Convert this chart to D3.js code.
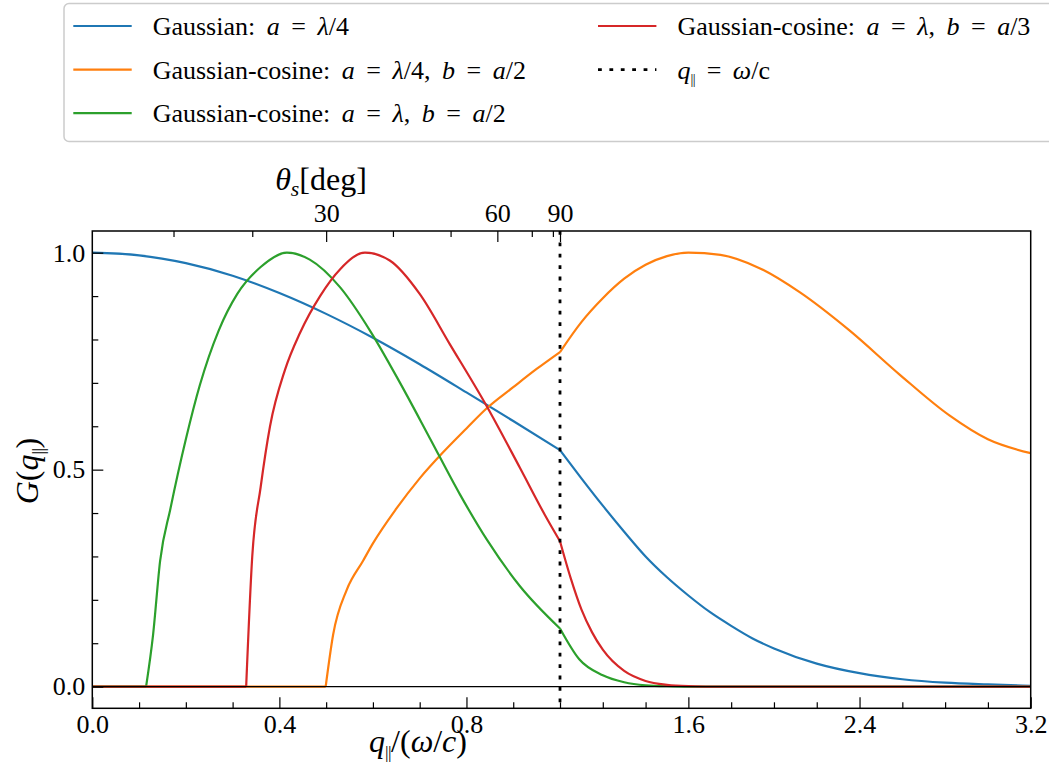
<!DOCTYPE html>
<html>
<head>
<meta charset="utf-8">
<script src="https://cdn.jsdelivr.net/npm/d3@7"></script>
<style>
body{margin:0;background:#fff;}
svg text{font-family:"Liberation Serif","Times New Roman",serif;fill:#000;white-space:pre;}
</style>
</head>
<body>
<script>
//values: [q/(omega/c), G]
var gaussA4 = [[0,1.0],[0.1,0.994],[0.2,0.976],[0.3,0.947],[0.4,0.907],[0.5,0.859],[0.6,0.804],[0.7,0.743],[0.8,0.678],[0.9,0.612],[1.0,0.545],[1.1,0.48],[1.2,0.417],[1.3,0.357],[1.4,0.30],[1.5,0.252],[1.6,0.21],[1.7,0.172],[1.8,0.14],[1.9,0.111],[2.0,0.088],[2.2,0.053],[2.4,0.031],[2.6,0.017],[2.8,0.009],[3.0,0.005],[3.2,0.002]];

var gcosA4B2 = [[0,0],[0.499,0],[0.515,0.12],[0.544,0.223],[0.579,0.29],[0.6,0.33],[0.65,0.41],[0.7,0.48],[0.75,0.54],[0.8,0.595],[0.844,0.642],[0.9,0.69],[0.95,0.732],[1.0,0.771],[1.1,0.84],[1.2,0.895],[1.3,0.94],[1.4,0.972],[1.5,0.992],[1.6,1.0],[1.75,0.995],[1.93,0.965],[2.12,0.909],[2.35,0.822],[2.59,0.718],[2.82,0.625],[3.0,0.57],[3.2,0.538]];

var gcosAB2 = [[0,0],[0.115,0],[0.13,0.12],[0.145,0.29],[0.167,0.41],[0.2,0.57],[0.23,0.695],[0.27,0.82],[0.31,0.905],[0.36,0.967],[0.416,1.0],[0.465,0.984],[0.53,0.92],[0.594,0.82],[0.658,0.70],[0.722,0.572],[0.786,0.443],[0.844,0.338],[0.914,0.232],[1.0,0.134],[1.09,0.063],[1.2,0.026],[1.3,0.01],[1.4,0.003],[1.5,0.001],[1.6,0],[3.2,0]];

var gcosAB3 = [[0,0],[0.329,0],[0.342,0.30],[0.36,0.46],[0.38,0.60],[0.412,0.73],[0.444,0.815],[0.487,0.90],[0.53,0.962],[0.583,1.0],[0.636,0.982],[0.7,0.905],[0.764,0.79],[0.844,0.645],[0.914,0.505],[0.968,0.395],[1.0,0.335],[1.05,0.25],[1.1,0.178],[1.15,0.125],[1.2,0.085],[1.3,0.036],[1.4,0.013],[1.5,0.004],[1.6,0.001],[1.7,0],[3.2,0]];

var lightLine = 1.0; //q = omega/c

//ticks
var bottomMajor = [0, 0.4, 0.8, 1.6, 2.4, 3.2];
var bottomMinor = [0.1,0.2,0.3,0.5,0.6,0.7,0.9,1.0,1.2,1.4,1.8,2.0,2.2,2.6,2.8,3.0];
var leftMajor = [0, 0.5, 1.0];
var leftMinor = [0.1,0.2,0.3,0.4,0.6,0.7,0.8,0.9];
var topMajorDeg = [30, 60, 90];
var topMinorDeg = [10, 20, 40, 50, 70, 80];

var legendLabels = [
    [["Gaussian: ","n"],["a","i"],[" = ","n"],["λ","i"],["/4","n"]],
    [["Gaussian-cosine: ","n"],["a","i"],[" = ","n"],["λ","i"],["/4, ","n"],["b","i"],[" = ","n"],["a","i"],["/2","n"]],
    [["Gaussian-cosine: ","n"],["a","i"],[" = ","n"],["λ","i"],[", ","n"],["b","i"],[" = ","n"],["a","i"],["/2","n"]],
    [["Gaussian-cosine: ","n"],["a","i"],[" = ","n"],["λ","i"],[", ","n"],["b","i"],[" = ","n"],["a","i"],["/3","n"]],
    [["q","i"],["||","s"],[" = ","n"],["ω","i"],["/c","n"]]
];

var series = [gaussA4, gcosA4B2, gcosAB2, gcosAB3];
var colors = ["#1f77b4", "#ff7f0e", "#2ca02c", "#d62728"];

var width = 1049, height = 766;
var plotL = 92.3, plotR = 1030.7, plotT = 231, plotB = 708.3;

var svg = d3.select("body").append("svg")
    .attr("width", width)
    .attr("height", height);

//x is linear below q = 1 and compressed above it
var x = d3.scaleLinear().domain([0, 1, 3.2]).range([plotL, 560, plotR]);
var y = d3.scaleLinear().domain([-0.05, 1.05]).range([plotB, plotT]);

function rad(d){ return d * Math.PI / 180; }

//write text with italic / subscript pieces
function richText(sel, segs, size){
    var shift = 0;
    segs.forEach(function(s){
        var t = sel.append("tspan").text(s[0]);
        var sub = s[1].indexOf("s") >= 0;
        if (s[1].indexOf("i") >= 0) t.attr("font-style", "italic");
        if (sub) t.attr("font-size", size * 0.68);
        if (s[0] === "||") t.attr("font-size", size * 0.55).attr("letter-spacing", -0.5);
        var target = sub ? size * 0.2 : 0;
        if (target !== shift){ t.attr("dy", target - shift); shift = target; }
    });
}

function styleAxis(g){
    g.select(".domain").remove();
    g.attr("font-family", null).attr("font-size", 26);
    g.selectAll(".tick line").attr("stroke", "#000").attr("stroke-width", 1.2);
    g.selectAll(".tick text").attr("fill", "#000");
}

//break a curve at q = 1 (axis kink) and where it leaves / reaches zero
function pieces(data){
    var out = [], cur = [data[0]];
    for (var i = 1; i < data.length; i++){
        cur.push(data[i]);
        var brk = data[i][0] === lightLine ||
            (i < data.length - 1 && ((data[i][1] === 0) !== (data[i + 1][1] === 0)));
        if (brk && i < data.length - 1){ out.push(cur); cur = [data[i]]; }
    }
    if (cur.length > 1) out.push(cur);
    return out;
}

//clip
svg.append("clipPath").attr("id", "plotClip")
    .append("rect").attr("x", plotL).attr("y", plotT)
    .attr("width", plotR - plotL).attr("height", plotB - plotT);

//curves
var line = d3.line()
    .x(function(d){ return x(d[0]); })
    .y(function(d){ return y(d[1]); })
    .curve(d3.curveMonotoneX);

var plot = svg.append("g").attr("clip-path", "url(#plotClip)");

plot.selectAll(".curve")
    .data(series)
    .enter()
    .append("path")
    .attr("class", "curve")
    .attr("d", function(d){ return pieces(d).map(line).join(""); })
    .attr("fill", "none")
    .attr("stroke", function(d, i){ return colors[i]; })
    .attr("stroke-width", 2.2)
    .attr("stroke-linejoin", "round");

//zero line
plot.append("line")
    .attr("x1", plotL).attr("x2", plotR)
    .attr("y1", y(0)).attr("y2", y(0))
    .attr("stroke", "#000").attr("stroke-width", 1.3);

//light line
plot.append("line")
    .attr("x1", x(lightLine)).attr("x2", x(lightLine))
    .attr("y1", plotT).attr("y2", plotB)
    .attr("stroke", "#000").attr("stroke-width", 2.8)
    .attr("stroke-dasharray", "3.8,7.6");

//bottom axis
svg.append("g").attr("transform", "translate(0," + plotB + ")")
    .call(d3.axisBottom(x).tickValues(bottomMajor).tickSize(-11).tickSizeOuter(0)
        .tickPadding(6).tickFormat(d3.format(".1f")))
    .call(styleAxis);
svg.append("g").attr("transform", "translate(0," + plotB + ")")
    .call(d3.axisBottom(x).tickValues(bottomMinor).tickSize(-6).tickSizeOuter(0).tickFormat(""))
    .call(styleAxis);

//left axis
svg.append("g").attr("transform", "translate(" + plotL + ",0)")
    .call(d3.axisLeft(y).tickValues(leftMajor).tickSize(-11).tickSizeOuter(0)
        .tickPadding(7).tickFormat(d3.format(".1f")))
    .call(styleAxis);
svg.append("g").attr("transform", "translate(" + plotL + ",0)")
    .call(d3.axisLeft(y).tickValues(leftMinor).tickSize(-6).tickSizeOuter(0).tickFormat(""))
    .call(styleAxis);

//top axis: scattering angle, q = sin(theta)
svg.append("g").attr("transform", "translate(0," + plotT + ")")
    .call(d3.axisTop(x).tickValues(topMajorDeg.map(function(d){ return Math.sin(rad(d)); }))
        .tickSize(-11).tickSizeOuter(0).tickPadding(9)
        .tickFormat(function(d, i){ return topMajorDeg[i]; }))
    .call(styleAxis);
svg.append("g").attr("transform", "translate(0," + plotT + ")")
    .call(d3.axisTop(x).tickValues(topMinorDeg.map(function(d){ return Math.sin(rad(d)); }))
        .tickSize(-6).tickSizeOuter(0).tickFormat(""))
    .call(styleAxis);

//frame
svg.append("rect")
    .attr("x", plotL).attr("y", plotT)
    .attr("width", plotR - plotL).attr("height", plotB - plotT)
    .attr("fill", "none").attr("stroke", "#000").attr("stroke-width", 1.5);

//axis labels
var xl = svg.append("text").attr("x", 418).attr("y", 752)
    .attr("text-anchor", "middle").attr("font-size", 32);
richText(xl, [["q","i"],["||","s"],["/(","n"],["ω","i"],["/","n"],["c","i"],[")","n"]], 32);

var yl = svg.append("text").attr("transform", "translate(38,471) rotate(-90)")
    .attr("text-anchor", "middle").attr("font-size", 32);
richText(yl, [["G","i"],["(","n"],["q","i"],["||","s"],[")","n"]], 32);

var tl = svg.append("text").attr("x", 321).attr("y", 190)
    .attr("text-anchor", "middle").attr("font-size", 32);
richText(tl, [["θ","i"],["s","si"],["[deg]","n"]], 32);

//legend
var legend = svg.append("g");
legend.append("rect")
    .attr("x", 64).attr("y", 3.5)
    .attr("width", 1010).attr("height", 138)
    .attr("rx", 5)
    .attr("fill", "#fff").attr("fill-opacity", 0.8)
    .attr("stroke", "#cccccc").attr("stroke-width", 1.5);

var colX = [73.3, 598];
legendLabels.forEach(function(lab, i){
    var col = Math.floor(i / 3), row = i % 3;
    var ly = 26 + row * 43.6;
    var h = legend.append("line")
        .attr("x1", colX[col]).attr("x2", colX[col] + 58.4)
        .attr("y1", ly).attr("y2", ly);
    if (i < 4){
        h.attr("stroke", colors[i]).attr("stroke-width", 2.2);
    } else {
        h.attr("stroke", "#000").attr("stroke-width", 2.8).attr("stroke-dasharray", "3.8,7.6");
    }
    var t = legend.append("text")
        .attr("x", colX[col] + 79.4).attr("y", ly + 9)
        .attr("font-size", 26)
        .style("word-spacing", "5px");
    richText(t, lab, 26);
});
</script>
</body>
</html>
